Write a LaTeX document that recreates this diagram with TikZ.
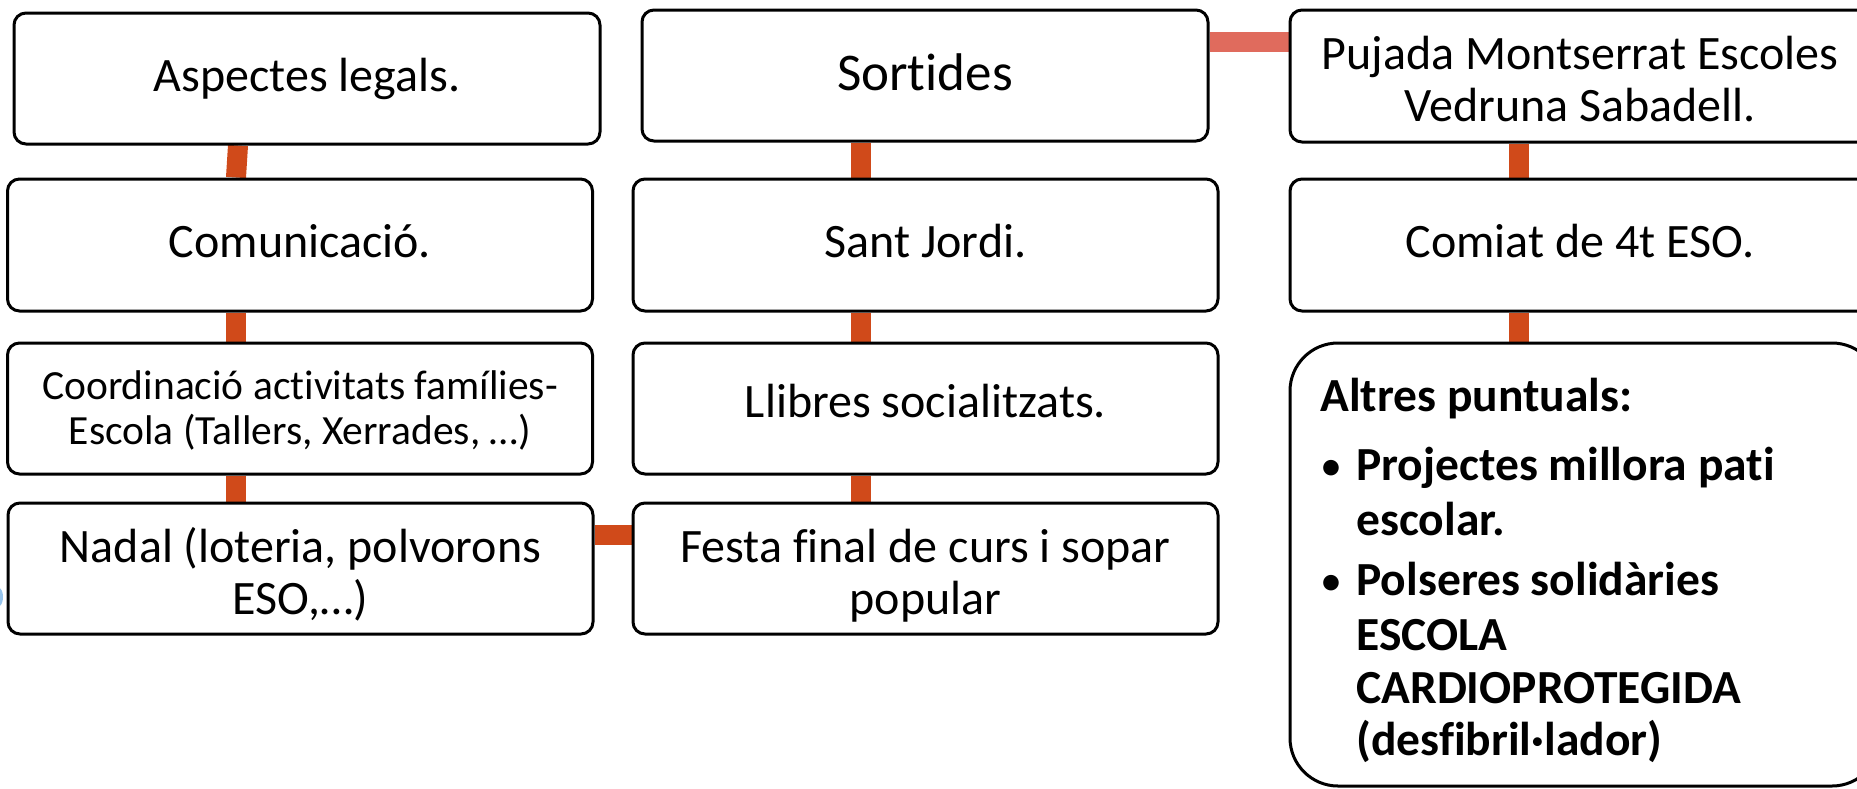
\documentclass[tikz,border=0pt]{standalone}
\usepackage{fontspec}
\setmainfont{Carlito}[Ligatures={NoCommon,NoContextual}]
\usetikzlibrary{backgrounds}
\definecolor{connc}{RGB}{208,74,26}
\definecolor{connl}{RGB}{224,107,93}
\definecolor{artblue}{RGB}{150,195,235}
\newcommand{\shifttxt}[2]{\raisebox{#1}[\height][\depth]{#2}}
\newcommand{\twolines}[3]{\raisebox{#1}[\height][\depth]{\begin{tabular}{@{}c@{}}#2\\#3\end{tabular}}}
\begin{document}
\begin{tikzpicture}[x=0.5pt,y=-0.5pt,
  box/.style={draw=black,line width=1.5pt,rounded corners=6pt,fill=white,inner sep=0pt,align=center,font=\fontsize{24}{26}\selectfont},
  colw/.style={minimum width=292.5pt,minimum height=65.5pt},
  conn/.style={connc,line width=10pt},
  connlight/.style={connl,line width=10pt},
  lt/.style={inner sep=0pt,anchor=base west,font=\bfseries\fontsize{23.75}{26}\selectfont},
  bul/.style={inner sep=0pt,anchor=base west,font=\fontsize{22}{26}\selectfont}]
\useasboundingbox (0,0) rectangle (1857,788);
\clip (0,0) rectangle (1857,788);

% left edge artifact
\fill[artblue] (-1,597) ellipse (2pt and 4.5pt);

% column 1
\node[box,minimum width=293pt,minimum height=65.5pt] (asp) at (307,78.5) {Aspectes legals.};
\node[box,colw,minimum height=66pt] (com) at (300,245) {\shifttxt{1.8pt}{Comunicació.}};
\node[box,colw,font=\fontsize{20.75}{22.5}\selectfont] (coo) at (300,408.5) {\twolines{-2pt}{Coordinació activitats famílies-}{Escola (Tallers, Xerrades, …)}};
\node[box,colw] (nad) at (300.5,568.5) {\twolines{-4.7pt}{Nadal (loteria, polvorons}{ESO,…)}};

% column 2
\node[box,minimum width=283pt,minimum height=65.5pt,font=\fontsize{26.5}{29}\selectfont] (sor) at (925,75.5) {\shifttxt{1.8pt}{Sortides}};
\node[box,colw,minimum height=66pt] (sjo) at (925.5,245) {\shifttxt{1.8pt}{Sant Jordi.}};
\node[box,colw] (lli) at (925.5,408.5) {\shifttxt{3.5pt}{Llibres socialitzats.}};
\node[box,colw] (fes) at (925.5,568.5) {\twolines{-4.7pt}{Festa final de curs i sopar}{popular}};

% column 3
\node[box,minimum width=290pt,minimum height=66pt] (puj) at (1580,76) {\twolines{-4.7pt}{Pujada Montserrat Escoles}{Vedruna Sabadell.}};
\node[box,minimum width=290pt,minimum height=66pt] (com4) at (1580,245) {\shifttxt{1.8pt}{Comiat de 4t ESO.}};
\node[box,rounded corners=24pt,minimum width=295pt,minimum height=221.5pt] (alt) at (1585,564.5) {};

\node[lt] (a0) at (1320,411) {Altres puntuals:};
\node[bul] (b1) at (1320,480) {•};
\node[lt] (a1) at (1356,480) {Projectes millora pati};
\node[lt] (a2) at (1356,535) {escolar.};
\node[bul] (b2) at (1320,595) {•};
\node[lt] (a3) at (1356,595) {Polseres solidàries};
\node[lt] (a4) at (1356,650) {ESCOLA};
\node[lt] (a5) at (1356,703) {CARDIOPROTEGIDA};
\node[lt] (a6) at (1356,755) {(desfibril·lador)};

\begin{scope}[on background layer]
\draw[conn] (asp.south -| 238,0) -- (com.north -| 236,0);
\draw[conn] (com.south -| 236,0) -- (coo.north -| 236,0);
\draw[conn] (coo.south -| 236,0) -- (nad.north -| 236,0);
\draw[conn] (nad.east |- 0,534.5) -- (fes.west |- 0,534.5);
\draw[conn] (sor.south -| 861,0) -- (sjo.north -| 861,0);
\draw[conn] (sjo.south -| 861,0) -- (lli.north -| 861,0);
\draw[conn] (lli.south -| 861,0) -- (fes.north -| 861,0);
\draw[connlight] (sor.east |- 0,42) -- (puj.west |- 0,42);
\draw[conn] (puj.south -| 1519,0) -- (com4.north -| 1519,0);
\draw[conn] (com4.south -| 1519,0) -- (alt.north -| 1519,0);
\end{scope}
\end{tikzpicture}
\end{document}
